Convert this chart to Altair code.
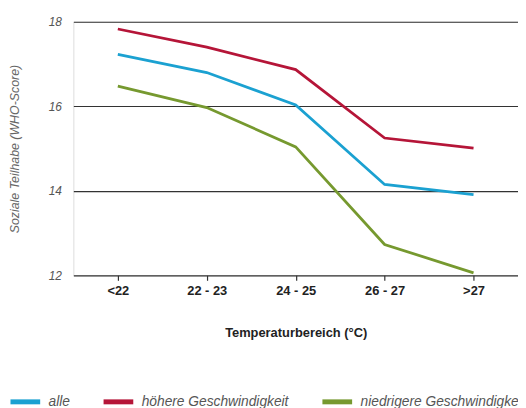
import altair as alt
import pandas as pd

categories = ["<22", "22 - 23", "24 - 25", "26 - 27", ">27"]
series_names = ["alle", "höhere Geschwindigkeit", "niedrigere Geschwindigkeit"]
alle = [17.23, 16.80, 16.03, 14.15, 13.91]
hoehere = [17.83, 17.40, 16.87, 15.25, 15.01]
niedrigere = [16.48, 15.97, 15.04, 12.73, 12.06]
colors = ["#1ba1d1", "#b51538", "#76992f"]
y_ticks = [12, 14, 16, 18]

rows = []
for name, vals in zip(series_names, [alle, hoehere, niedrigere]):
    for c, v in zip(categories, vals):
        rows.append({"Temperatur": c, "Serie": name, "Wert": v})
df = pd.DataFrame(rows)

FONT = "Liberation Sans"

chart = alt.Chart(df).mark_line(strokeWidth=2.8).encode(
    x=alt.X("Temperatur:N", sort=categories,
            scale=alt.Scale(type="point", padding=0.5),
            axis=alt.Axis(title="Temperaturbereich (°C)", labelAngle=0, domain=False,
                          ticks=True, tickSize=5, tickColor="#333", tickWidth=1.2,
                          labelPadding=4, labelFont=FONT, labelFontSize=13,
                          labelFontWeight="bold", labelColor="#222",
                          titleFont=FONT, titleFontSize=13, titleFontWeight="bold",
                          titleColor="#222", titlePadding=30, grid=False)),
    y=alt.Y("Wert:Q", scale=alt.Scale(domain=[12, 18], nice=False, zero=False),
            axis=alt.Axis(title="Soziale Teilhabe (WHO-Score)", values=y_ticks,
                          domain=False, ticks=False, tickSize=0, labelPadding=12,
                          labelFont=FONT, labelFontSize=12, labelFontStyle="italic",
                          labelColor="#555", grid=True, gridColor="#333", gridWidth=1.1,
                          gridOpacity=1, titleFont=FONT, titleFontSize=12.5,
                          titleFontStyle="italic", titleFontWeight="normal",
                          titleColor="#666", titleX=-59, titleY=128,
                          titleBaseline="middle", titleAlign="center")),
    color=alt.Color("Serie:N", sort=series_names,
                    scale=alt.Scale(domain=series_names, range=colors),
                    legend=alt.Legend(title=None, orient="none", legendX=-66, legendY=366,
                                      direction="horizontal", symbolType="stroke",
                                      symbolStrokeWidth=5, symbolSize=900,
                                      labelOffset=6, columnPadding=23,
                                      labelFont=FONT, labelFontSize=13.9,
                                      labelFontStyle="italic", labelColor="#555",
                                      labelLimit=400)),
).properties(
    width=449, height=256,
    autosize=alt.AutoSizeParams(type="none"),
    padding={"left": 66, "top": 12, "right": 0, "bottom": 132},
).configure_view(stroke=None).configure(background="white")

chart.save("out.html", embed_options={"renderer": "svg", "actions": False})
